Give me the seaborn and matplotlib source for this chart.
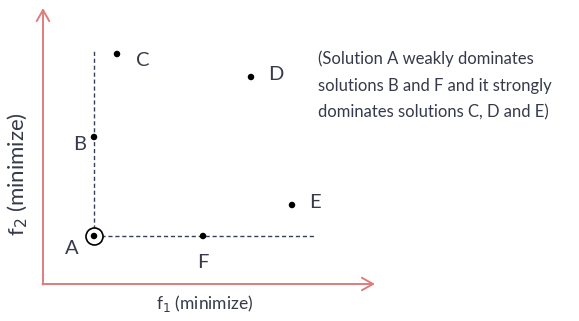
import matplotlib
matplotlib.use('Agg')
import matplotlib.pyplot as plt
import seaborn as sns
import pandas as pd

# Solutions (f1, f2 in arbitrary units)
names = ['A', 'B', 'C', 'D', 'E', 'F']
f1 = [5.1, 5.1, 7.4, 20.8, 24.9, 16.0]
f2 = [4.8, 14.7, 23.0, 20.7, 7.9, 4.8]

# label offsets (in data units) for each solution letter
label_dx = [-2.2, -1.4, 2.6, 2.5, 2.3, 0.0]
label_dy = [-1.3, -0.8, -0.6, 0.2, 0.2, -2.6]

note = ("(Solution A weakly dominates\n"
        "solutions B and F and it strongly\n"
        "dominates solutions C, D and E)")

df = pd.DataFrame({'name': names, 'f1': f1, 'f2': f2})

sns.set_style('white')
plt.rcParams['font.family'] = ['Lato', 'DejaVu Sans']

fig = plt.figure(figsize=(5.79, 3.21), dpi=100)
ax = fig.add_axes([0, 0, 1, 1])
ax.set_xlim(-4.3, 53.6)
ax.set_ylim(-3.7, 28.4)
ax.axis('off')

axis_col = '#e07c7c'
text_col = '#363a4a'
dash_col = '#34405a'

# axes arrows
ax.annotate('', xy=(0, 27.6), xytext=(0, -0.05),
            arrowprops=dict(arrowstyle='->,head_length=0.8,head_width=0.45',
                            color=axis_col, lw=1.4, shrinkA=0, shrinkB=0))
ax.annotate('', xy=(33.2, 0), xytext=(-0.05, 0),
            arrowprops=dict(arrowstyle='->,head_length=0.8,head_width=0.45',
                            color=axis_col, lw=1.4, shrinkA=0, shrinkB=0))

# dashed lines from A
a = df[df['name'] == 'A'].iloc[0]
ax.plot([a.f1, a.f1], [a.f2, 23.4], ls=(0, (3, 2)), color=dash_col, lw=1)
ax.plot([a.f1, 27.2], [a.f2, a.f2], ls=(0, (3, 2)), color=dash_col, lw=1)

# points
sns.scatterplot(data=df, x='f1', y='f2', color='black', s=22,
                edgecolor='none', ax=ax, zorder=3)
sns.scatterplot(data=df[df['name'] == 'A'], x='f1', y='f2', s=150,
                facecolor='white', edgecolor='black', linewidth=1.2,
                ax=ax, zorder=2)
ax.axis('off')

for n, x, y, dx, dy in zip(names, f1, f2, label_dx, label_dy):
    ax.text(x + dx, y + dy, n, fontsize=14.5, color=text_col,
            ha='center', va='center')

ax.text(16.2, -2.0, r'f$_1$ (minimize)', fontsize=12.5, color=text_col,
        ha='center', va='center')
ax.text(-2.5, 11.0, r'f$_2$ (minimize)', fontsize=16, color=text_col,
        ha='center', va='center', rotation=90)

ax.text(27.5, 23.4, note, fontsize=12, color=text_col, ha='left',
        va='top', linespacing=1.85)

fig.savefig('out.png', dpi=100)
